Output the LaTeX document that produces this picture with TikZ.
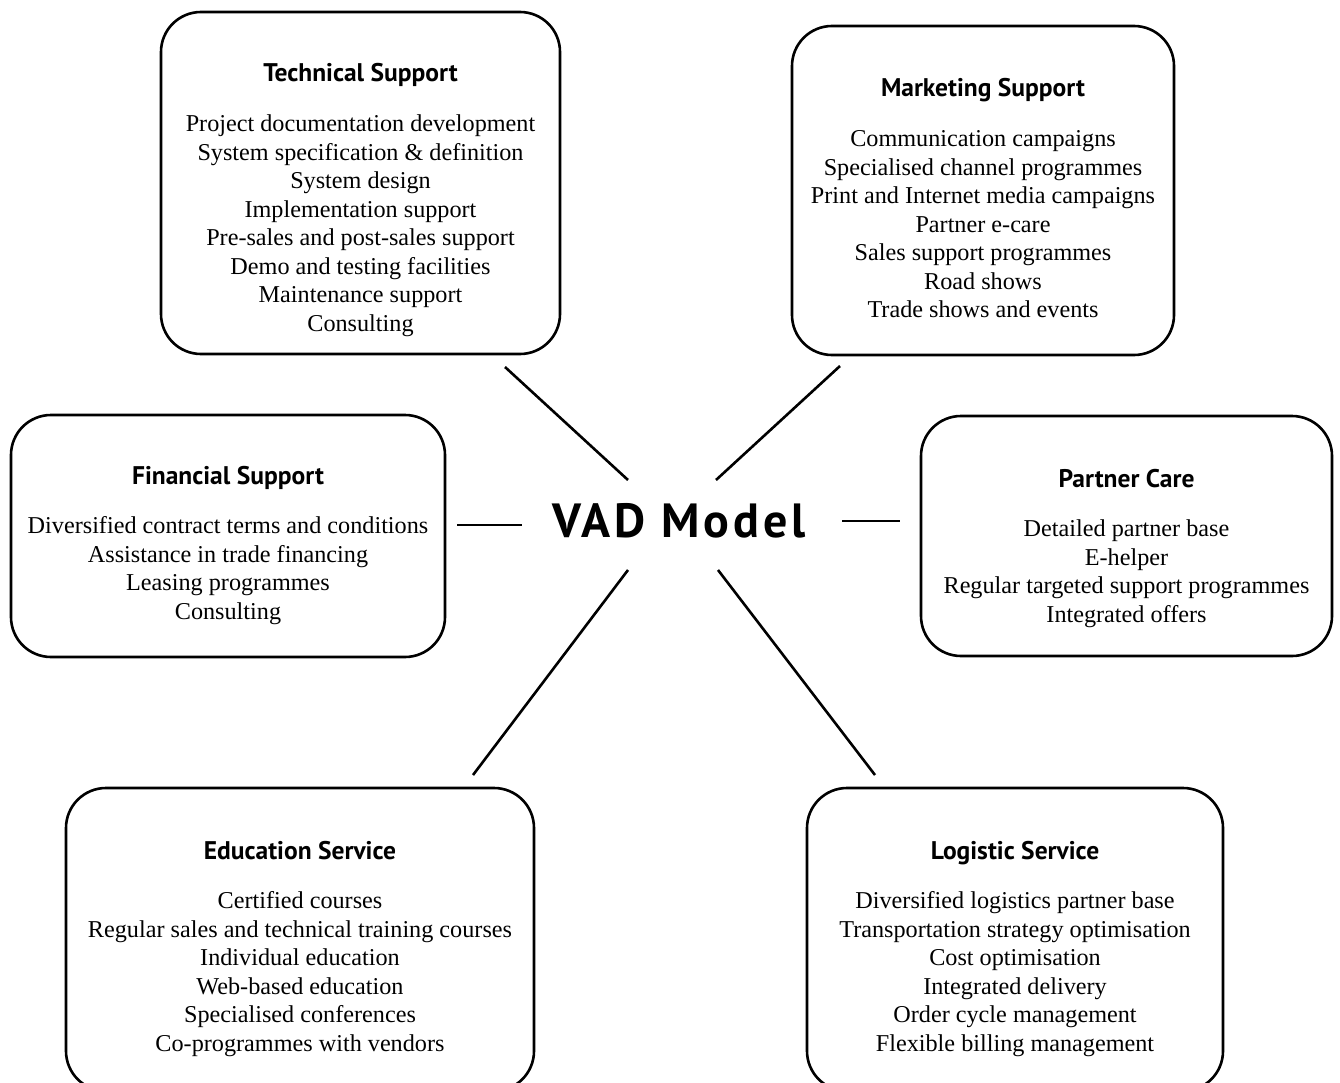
\documentclass[tikz,border=0pt]{standalone}
\usepackage{fontspec}
\setmainfont{Liberation Serif}
\newfontfamily\headfont{PT Sans}[BoldFont={PT Sans Bold}]
\newfontfamily\titlefont{PT Sans Bold}[LetterSpace=8]

\tikzset{
  box/.style={draw, line width=2.6pt, rounded corners=40pt, inner sep=0pt},
  bodytxt/.style={anchor=base, inner sep=0pt, font=\fontsize{24.2}{28}\selectfont},
  headtxt/.style={anchor=base, inner sep=0pt, font=\headfont\bfseries\fontsize{25.5}{30}\selectfont},
  title/.style={anchor=base, inner sep=0pt, font=\titlefont\fontsize{48}{54}\selectfont},
  link/.style={line width=2.6pt}
}

% one boxed group: #1 name, #2 centre x, #3 heading baseline, #4 heading, #5 items
\newcommand{\grouptext}[5]{%
  \node[headtxt] (#1-h) at (#2,#3) {#4};
  \foreach \t [count=\i] in {#5} {
    \node[bodytxt] (#1-\i) at (#2,{#3+49.6+28.5*(\i-1)}) {\t};
  }
}

\begin{document}
\begin{tikzpicture}[x=1pt,y=-1pt]
\useasboundingbox (0,0) rectangle (1340,1083);

% frames
\node[box, minimum width=399pt, minimum height=342pt] (tech) at (360.5,183) {};
\node[box, minimum width=382pt, minimum height=329pt] (mkt)  at (983,190.5) {};
\node[box, minimum width=434pt, minimum height=242pt] (fin)  at (228,536) {};
\node[box, minimum width=411pt, minimum height=240pt] (par)  at (1126.5,536) {};
\node[box, minimum width=468pt, minimum height=303pt] (edu)  at (300,939.5) {};
\node[box, minimum width=416pt, minimum height=303pt] (logi) at (1015,939.5) {};

% texts
\grouptext{techt}{360.5}{82}{Technical Support}{Project documentation development,System specification \& definition,System design,Implementation support,Pre-sales and post-sales support,Demo and testing facilities,Maintenance support,Consulting}
\grouptext{mktt}{983}{97}{Marketing Support}{Communication campaigns,Specialised channel programmes,Print and Internet media campaigns,Partner e-care,Sales support programmes,Road shows,Trade shows and events}
\grouptext{fint}{228}{484}{Financial Support}{Diversified contract terms and conditions,Assistance in trade financing,Leasing programmes,Consulting}
\grouptext{part}{1126.5}{487}{Partner Care}{Detailed partner base,E-helper,Regular targeted support programmes,Integrated offers}
\grouptext{edut}{300}{859}{Education Service}{Certified courses,Regular sales and technical training courses,Individual education,Web-based education,Specialised conferences,Co-programmes with vendors}
\grouptext{logt}{1015}{859}{Logistic Service}{Diversified logistics partner base,Transportation strategy optimisation,Cost optimisation,Integrated delivery,Order cycle management,Flexible billing management}

% centre
\node[title] (vad) at (679,537) {VAD Model};

% spokes
\coordinate (tech-a) at (505,367);  \coordinate (tech-b) at (628,480);
\coordinate (mkt-a)  at (840,366);  \coordinate (mkt-b)  at (716,480);
\coordinate (fin-a)  at (457,525);  \coordinate (fin-b)  at (522,525);
\coordinate (par-a)  at (842,521);  \coordinate (par-b)  at (900,521);
\coordinate (edu-a)  at (473,775);  \coordinate (edu-b)  at (628,570);
\coordinate (log-a)  at (875,775);  \coordinate (log-b)  at (718,570);
\draw[link] (tech-a) -- (tech-b);
\draw[link] (mkt-a) -- (mkt-b);
\draw[link] (fin-a) -- (fin-b);
\draw[link] (par-a) -- (par-b);
\draw[link] (edu-a) -- (edu-b);
\draw[link] (log-a) -- (log-b);
\end{tikzpicture}
\end{document}
